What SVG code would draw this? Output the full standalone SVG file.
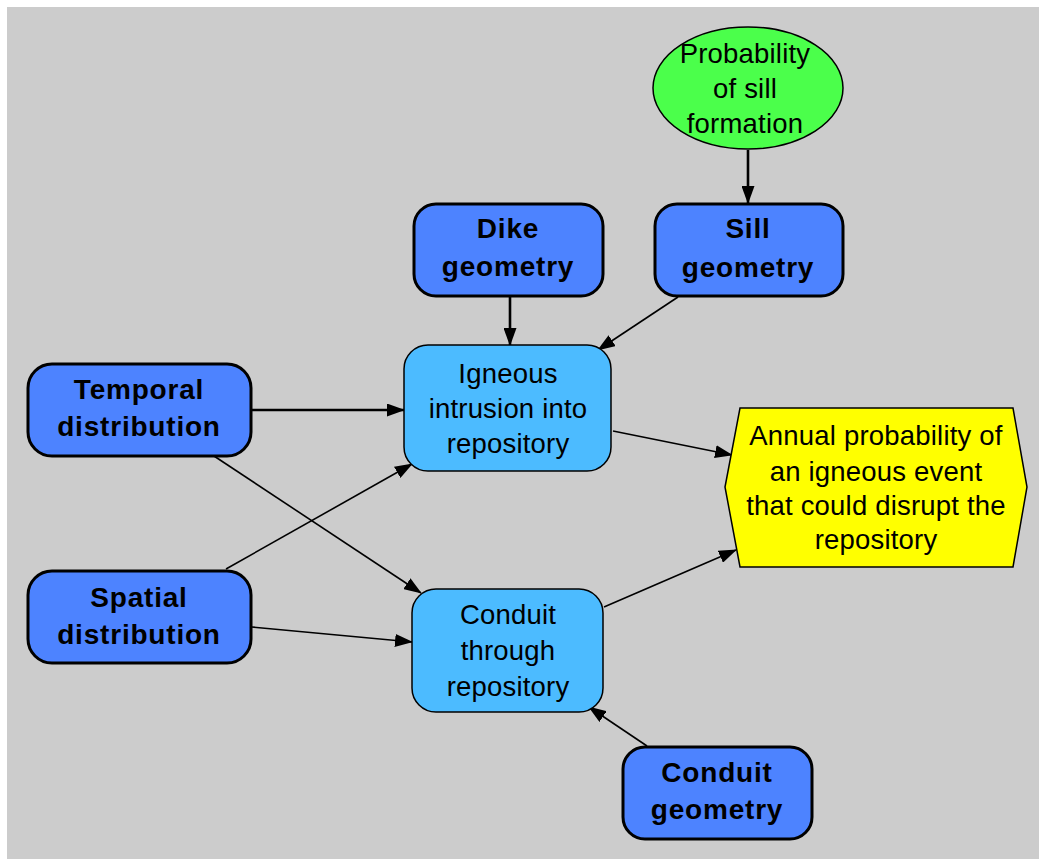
<svg xmlns="http://www.w3.org/2000/svg" width="1039" height="859" viewBox="0 0 1039 859">
  <style>
    .bg { fill: #cccccc; }
    .input rect { fill: #4d83ff; stroke: #000; stroke-width: 3; }
    .calc rect { fill: #4cbbff; stroke: #000; stroke-width: 1.5; }
    .chance ellipse { fill: #4bff4b; stroke: #000; stroke-width: 1.5; }
    .obj polygon { fill: #ffff00; stroke: #000; stroke-width: 1.5; }
    text { font-family: "Liberation Sans", Arial, sans-serif; text-anchor: middle; fill: #000; }
    .input text { font-size: 28px; font-weight: bold; letter-spacing: 0.8px; }
    .calc text, .chance text, .obj text { font-size: 27.5px; letter-spacing: 0.2px; }
    .edge { stroke: #000; stroke-width: 1.6; fill: none; marker-end: url(#arrow); }
    .edge.heavy { stroke-width: 2.6; }
  </style>
  <defs>
    <!-- filled triangular arrowhead, tip at the end of the line -->
    <marker id="arrow" viewBox="0 0 18 13" refX="17" refY="6.5" markerWidth="18" markerHeight="13" markerUnits="userSpaceOnUse" orient="auto">
      <path d="M0,0 L18,6.5 L0,13 z" fill="#000"/>
    </marker>
  </defs>

  <rect class="bg" x="7" y="7" width="1032" height="852"/>

  <g id="connectors">
    <line class="edge heavy" x1="748" y1="150" x2="748" y2="203"/>
    <line class="edge heavy" x1="510" y1="297" x2="510" y2="345"/>
    <line class="edge" x1="678" y1="297" x2="598" y2="350"/>
    <line class="edge heavy" x1="251" y1="410" x2="404" y2="410"/>
    <line class="edge" x1="214" y1="456" x2="421" y2="593"/>
    <line class="edge" x1="226" y1="569" x2="412" y2="464"/>
    <line class="edge" x1="252" y1="627" x2="412" y2="642"/>
    <line class="edge" x1="613" y1="431" x2="732" y2="455"/>
    <line class="edge" x1="604" y1="607" x2="736" y2="550"/>
    <line class="edge" x1="647" y1="746" x2="589" y2="707"/>
  </g>

  <g id="prob-sill-formation" class="chance">
    <ellipse cx="748" cy="88" rx="95" ry="61"/>
    <text x="745" y="63">Probability</text>
    <text x="745" y="98">of sill</text>
    <text x="745" y="133">formation</text>
  </g>

  <g id="dike-geometry" class="input">
    <rect x="414" y="204" width="189" height="92" rx="22"/>
    <text x="508" y="238">Dike</text>
    <text x="508" y="276">geometry</text>
  </g>

  <g id="sill-geometry" class="input">
    <rect x="655" y="204" width="188" height="92" rx="22"/>
    <text x="748" y="238">Sill</text>
    <text x="748" y="277">geometry</text>
  </g>

  <g id="temporal-distribution" class="input">
    <rect x="28" y="364" width="223" height="92" rx="24"/>
    <text x="139" y="399">Temporal</text>
    <text x="139" y="436">distribution</text>
  </g>

  <g id="spatial-distribution" class="input">
    <rect x="28" y="571" width="223" height="92" rx="24"/>
    <text x="139" y="607">Spatial</text>
    <text x="139" y="644">distribution</text>
  </g>

  <g id="conduit-geometry" class="input">
    <rect x="623" y="747" width="189" height="92" rx="22"/>
    <text x="717" y="782">Conduit</text>
    <text x="717" y="819">geometry</text>
  </g>

  <g id="igneous-intrusion" class="calc">
    <rect x="404" y="345" width="207" height="126" rx="24"/>
    <text x="508" y="383">Igneous</text>
    <text x="508" y="418">intrusion into</text>
    <text x="508" y="453">repository</text>
  </g>

  <g id="conduit-through" class="calc">
    <rect x="412" y="589" width="191" height="123" rx="24"/>
    <text x="508" y="624">Conduit</text>
    <text x="508" y="660">through</text>
    <text x="508" y="696">repository</text>
  </g>

  <g id="annual-probability" class="obj">
    <polygon points="740,408 1013,408 1027,487 1013,567 740,567 725,487"/>
    <text x="876" y="445">Annual probability of</text>
    <text x="876" y="481">an igneous event</text>
    <text x="876" y="515">that could disrupt the</text>
    <text x="876" y="549">repository</text>
  </g>
</svg>
